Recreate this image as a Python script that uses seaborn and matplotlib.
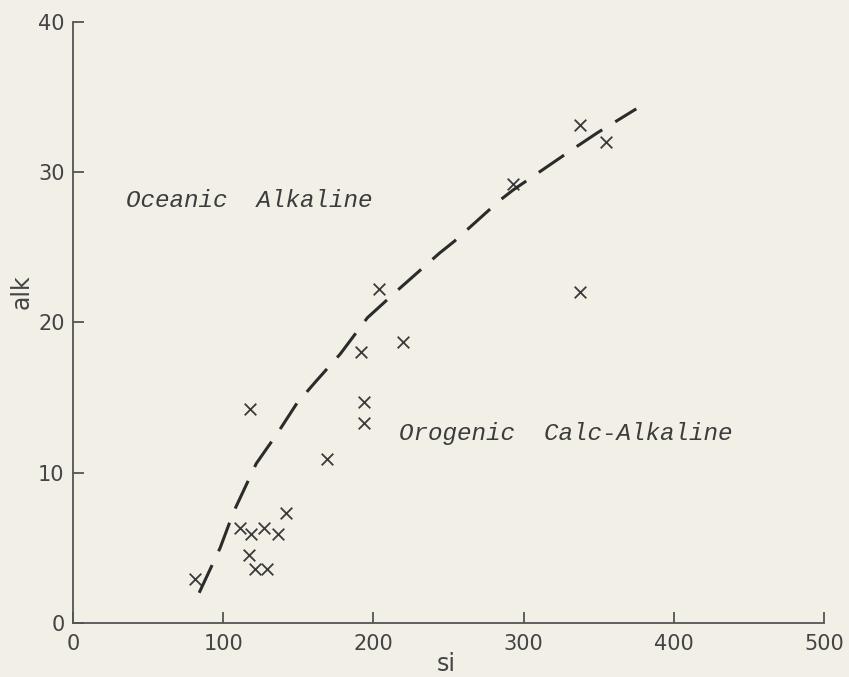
import matplotlib
matplotlib.use("Agg")
import pandas as pd
import matplotlib.pyplot as plt
import seaborn as sns

# Sample points (x markers)
si_pts = [81, 111, 118.5, 127, 136.5, 142, 117, 121, 129, 118, 169, 192, 193.5, 194,
          204, 220, 293, 337.5, 355, 337.5]
alk_pts = [2.9, 6.3, 5.9, 6.3, 5.9, 7.3, 4.5, 3.6, 3.6, 14.2, 10.9, 18.0, 14.7, 13.3,
           22.2, 18.7, 29.2, 33.1, 32.0, 22.0]

# Dividing curve
si_line = [84, 98, 107, 122, 136, 149, 162, 178, 196, 218, 244, 254, 284, 293, 331, 349, 375]
alk_line = [2.0, 5.0, 7.4, 10.6, 12.6, 14.6, 16.1, 17.9, 20.3, 22.3, 24.6, 25.4, 28.1,
            28.8, 31.4, 32.6, 34.2]

x_ticks = [0, 100, 200, 300, 400, 500]
y_ticks = [0, 10, 20, 30, 40]

pts = pd.DataFrame({"si": si_pts, "alk": alk_pts})
curve = pd.DataFrame({"si": si_line, "alk": alk_line})

sns.set_style("ticks")
paper = "#f2efe6"
ink = "#3a3a3a"

fig = plt.figure(figsize=(8.49, 6.77), dpi=100, facecolor=paper)
ax = fig.add_axes([0.086, 0.080, 0.8846, 0.888], facecolor=paper)

sns.lineplot(data=curve, x="si", y="alk", sort=False, color="#2b2b2b", lw=2.2,
             ax=ax, linestyle=(0, (10, 5)))
sns.scatterplot(data=pts, x="si", y="alk", marker="x", s=70, color=ink,
                linewidth=1.3, ax=ax)

ax.set_xlim(0, 500)
ax.set_ylim(0, 40)
ax.set_xticks(x_ticks)
ax.set_yticks(y_ticks)
ax.tick_params(direction="in", length=8, width=1.3, color="#555555",
               labelsize=15, labelcolor="#444444")
ax.tick_params(axis="x", pad=8)
ax.tick_params(axis="y", pad=6)
for side in ["top", "right"]:
    ax.spines[side].set_visible(False)
for side in ["left", "bottom"]:
    ax.spines[side].set_color("#555555")
    ax.spines[side].set_linewidth(1.3)

# axis titles placed where the reference has them
ax.set_xlabel("")
ax.set_ylabel("")
fig.text(446 / 849, 1 - 664 / 677, "si", fontsize=17, color="#444444",
         ha="center", va="center")
fig.text(22 / 849, 1 - 292 / 677, "alk", fontsize=17, color="#444444",
         ha="center", va="center", rotation=90)

ax.text(35, 28.1, "Oceanic  Alkaline", family="Liberation Mono", style="italic",
        fontsize=17.5, color="#3c3c3c", va="center", ha="left")
ax.text(217, 12.6, "Orogenic  Calc-Alkaline", family="Liberation Mono", style="italic",
        fontsize=17.5, color="#3c3c3c", va="center", ha="left")

plt.savefig("out.png", dpi=100, facecolor=paper)
